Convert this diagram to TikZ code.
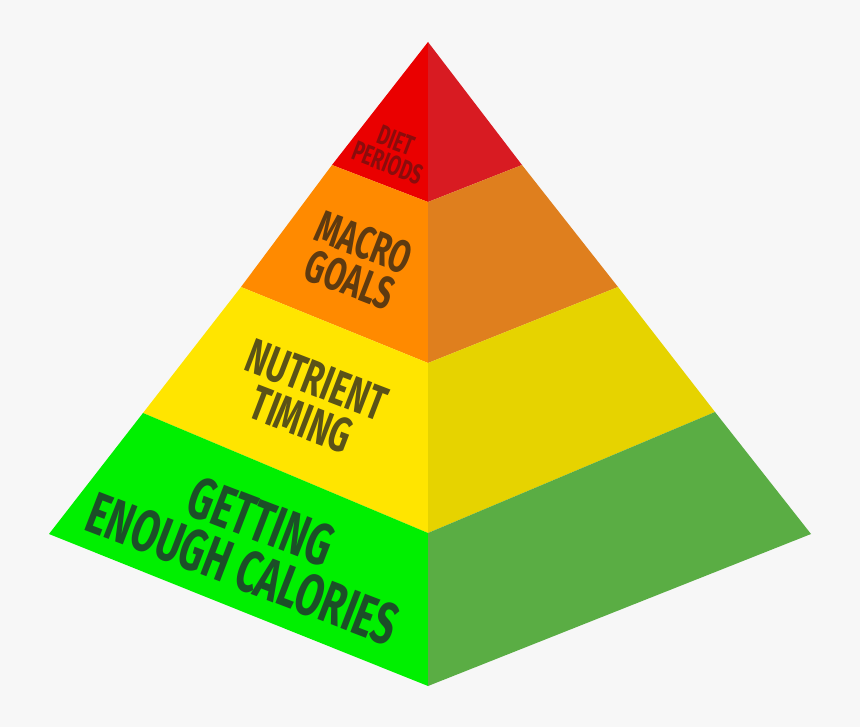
\documentclass[tikz,border=0pt]{standalone}
\usepackage{fontspec}
\newfontfamily\pyrfont{Fira Sans}[FakeStretch=0.66]
\definecolor{bg}{HTML}{F7F7F7}
\definecolor{redL}{HTML}{EA0000}
\definecolor{redR}{HTML}{D81B22}
\definecolor{oraL}{HTML}{FF8A00}
\definecolor{oraR}{HTML}{DF7F1E}
\definecolor{yelL}{HTML}{FFE500}
\definecolor{yelR}{HTML}{E6D300}
\definecolor{grnL}{HTML}{00F000}
\definecolor{grnR}{HTML}{5AAD44}
\definecolor{txtR}{HTML}{8A0C0C}
\definecolor{txtO}{HTML}{5E3A10}
\definecolor{txtY}{HTML}{5A5218}
\definecolor{txtG}{HTML}{1C4F28}
\tikzset{
  lbl/.style={rotate=-21, align=center, inner sep=0pt, font=\pyrfont\bfseries},
}
\begin{document}
\begin{tikzpicture}[x=1pt,y=-1pt]
\fill[bg] (0,0) rectangle (860,727);
\useasboundingbox (0,0) rectangle (860,727);
\coordinate (A) at (428,42);
\coordinate (L1) at (332,165); \coordinate (C1) at (428,202); \coordinate (R1) at (522,165);
\coordinate (L2) at (241,287); \coordinate (C2) at (428,363); \coordinate (R2) at (618,287);
\coordinate (L3) at (143,413); \coordinate (C3) at (428,533); \coordinate (R3) at (715,412);
\coordinate (L4) at (49,534);  \coordinate (C4) at (428,686); \coordinate (R4) at (811,534);
% left faces
\fill[redL] (A) -- (L1) -- (C1) -- cycle;
\fill[oraL] (L1) -- (L2) -- (C2) -- (C1) -- cycle;
\fill[yelL] (L2) -- (L3) -- (C3) -- (C2) -- cycle;
\fill[grnL] (L3) -- (L4) -- (C4) -- (C3) -- cycle;
% right faces
\fill[redR] (A) -- (C1) -- (R1) -- cycle;
\fill[oraR] (C1) -- (C2) -- (R2) -- (R1) -- cycle;
\fill[yelR] (C2) -- (C3) -- (R3) -- (R2) -- cycle;
\fill[grnR] (C3) -- (C4) -- (R4) -- (R3) -- cycle;
% labels
\node[lbl, text=txtR, font=\pyrfont\bfseries\fontsize{28}{24}\selectfont] (t1) at (392,152) {DIET\\PERIODS};
\node[lbl, text=txtO, font=\pyrfont\bfseries\fontsize{46}{40}\selectfont] (t2) at (357,261) {MACRO\\GOALS};
\node[lbl, text=txtY, font=\pyrfont\bfseries\fontsize{49}{43}\selectfont] (t3) at (309,400) {NUTRIENT\\TIMING};
\node[lbl, text=txtG, font=\pyrfont\bfseries\fontsize{59}{51}\selectfont] (t4) at (252,545) {GETTING\\ENOUGH CALORIES};
\end{tikzpicture}
\end{document}
